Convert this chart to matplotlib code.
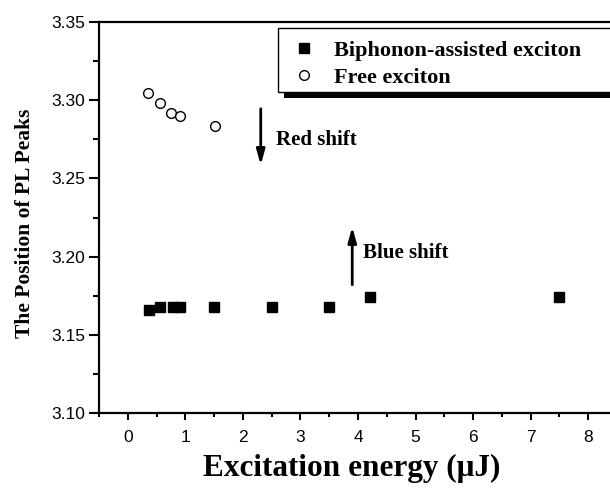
import numpy as np
import matplotlib
matplotlib.use("Agg")
from matplotlib import pyplot as plt
from matplotlib.patches import Rectangle

# data
bi_x = [0.37, 0.56, 0.78, 0.9, 1.5, 2.5, 3.5, 4.2, 7.5]
bi_y = [3.166, 3.168, 3.168, 3.168, 3.168, 3.168, 3.168, 3.174, 3.174]
free_x = [0.36, 0.56, 0.75, 0.9, 1.51]
free_y = [3.3045, 3.298, 3.2915, 3.290, 3.2835]

xticks = [0, 1, 2, 3, 4, 5, 6, 7, 8]
yticks = [3.10, 3.15, 3.20, 3.25, 3.30, 3.35]

serif = "Liberation Serif"
sans = "Liberation Sans"

W, H = 610, 488
fig = plt.figure(figsize=(W / 100, H / 100), dpi=100)
ax = fig.add_axes([99/W, (H - 413)/H, (617-99)/W, (413-22)/H])

ax.plot(bi_x, bi_y, ls="none", marker="s", ms=6.5, color="k", mec="k",
        label="Biphonon-assisted exciton")
ax.plot(free_x, free_y, ls="none", marker="o", ms=7, mfc="white", mec="k",
        mew=1.0, label="Free exciton")

ax.set_xlim(-0.5, 8.5)
ax.set_ylim(3.10, 3.35)
ax.set_xticks(xticks)
ax.set_xticks(np.arange(-0.5, 8.6, 0.5), minor=True)
ax.set_yticks(yticks)
ax.set_yticks(np.arange(3.10, 3.351, 0.025), minor=True)
ax.set_yticklabels(["%.2f" % v for v in yticks], fontname=sans, fontsize=12.5)
ax.set_xticklabels([str(v) for v in xticks], fontname=sans, fontsize=12.5)
ax.tick_params(axis="y", which="major", direction="out", length=7, width=1.5, pad=3)
ax.tick_params(axis="y", which="minor", direction="out", length=4.5, width=1.5)
ax.tick_params(axis="x", which="major", direction="out", length=5, width=1.5, pad=7)
ax.tick_params(axis="x", which="minor", direction="out", length=3, width=1.5)
for s in ax.spines.values():
    s.set_linewidth(1.6)

ax.set_xlabel("Excitation energy (\u03bcJ)", fontname=serif, fontweight="bold",
              fontsize=22.5)
ax.xaxis.set_label_coords(0.488, -0.105)
ax.set_ylabel("The Position of PL Peaks", fontname=serif, fontweight="bold",
              fontsize=15.5)
ax.yaxis.set_label_coords(-0.124, 0.486)

# shift arrows
ax.annotate("", xy=(2.31, 3.2585), xytext=(2.31, 3.2945),
            arrowprops=dict(arrowstyle="-|>,head_width=0.25,head_length=0.9",
                            lw=2, color="k", shrinkA=0, shrinkB=0))
ax.text(2.57, 3.2747, "Red shift", fontname=serif, fontweight="bold",
        fontsize=15, va="center", ha="left")
ax.annotate("", xy=(3.9, 3.219), xytext=(3.9, 3.182),
            arrowprops=dict(arrowstyle="-|>,head_width=0.25,head_length=0.9",
                            lw=2, color="k", shrinkA=0, shrinkB=0))
ax.text(4.08, 3.202, "Blue shift", fontname=serif, fontweight="bold",
        fontsize=15, va="center", ha="left")

# legend box with a hard black shadow (runs off the right edge)
ax.add_patch(Rectangle((284, H - 98), 400, 64, transform=None, facecolor="k",
                       edgecolor="none", zorder=4, clip_on=False))
ax.add_patch(Rectangle((278, H - 92), 400, 64, transform=None, facecolor="white",
                       edgecolor="k", lw=1.0, zorder=4.5, clip_on=False))
leg = ax.legend(loc="upper left", bbox_to_anchor=(293/W, 1 - 40/H),
                bbox_transform=fig.transFigure, frameon=False,
                prop=dict(family=serif, weight="bold", size=16),
                handletextpad=0.85, borderpad=0.0, labelspacing=0.3,
                handlelength=1.0, borderaxespad=0)
leg.set_zorder(5)

fig.savefig("out.png", dpi=100)
